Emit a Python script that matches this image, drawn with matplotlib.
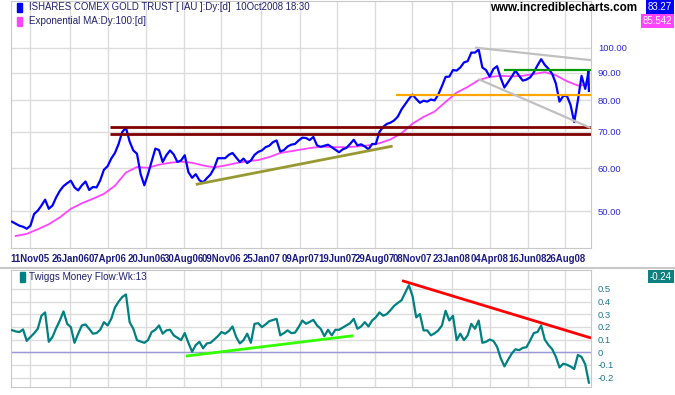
import matplotlib
matplotlib.use('Agg')
import matplotlib.pyplot as plt
import matplotlib.dates as mdates
from matplotlib.lines import Line2D
from matplotlib.patches import Rectangle
from matplotlib.ticker import NullLocator
import pandas as pd

plt.rcParams['font.family'] = ['Liberation Sans', 'DejaVu Sans']

# IAU weekly closes (Fridays) 07Oct05 .. 03Oct08
price = [
    47.8, 47.4, 47.0, 46.8, 46.4, 47.0, 49.4, 50.1, 51.2, 52.5,
    50.5, 51.2, 53.0, 54.5, 55.6, 56.3, 56.9, 55.3, 54.6, 55.8,
    56.7, 54.7, 55.4, 55.3, 57.0, 59.6, 60.5, 62.5, 64.0, 66.5,
    70.0, 71.2, 67.2, 64.7, 63.8, 58.5, 55.8, 58.5, 61.8, 65.2,
    64.8, 61.6, 63.4, 64.7, 63.6, 61.6, 62.0, 63.4, 59.0, 57.6,
    58.5, 57.0, 56.5, 57.5, 58.4, 60.0, 62.6, 62.6, 62.6, 63.5,
    64.0, 62.8, 61.6, 62.5, 61.3, 62.0, 63.5, 64.3, 64.7, 65.6,
    66.0, 67.0, 67.5, 64.4, 64.8, 65.8, 66.3, 66.5, 67.5, 68.3,
    68.2, 67.6, 68.5, 66.1, 65.7, 66.0, 66.3, 65.6, 64.9, 64.2,
    65.0, 65.4, 66.5, 67.7, 66.1, 66.4, 65.8, 65.0, 66.5, 66.5,
    70.0, 71.5, 72.4, 72.8, 73.5, 74.7, 77.0, 78.7, 80.5, 82.0,
    80.5, 79.2, 79.9, 79.6, 80.3, 80.0, 82.0, 85.0, 88.4, 88.5,
    91.0, 90.8, 92.0, 94.0, 94.5, 98.0, 98.0, 99.3, 92.0, 91.0,
    88.5, 91.4, 92.5, 88.0, 84.5, 86.5, 88.5, 90.8, 88.8, 87.0,
    87.4, 88.2, 90.1, 92.8, 95.3, 93.0, 91.5, 89.6, 86.0, 79.6,
    81.5, 81.6, 78.5, 73.0, 80.0, 88.8, 84.0,
]
# last few daily bars
tail_dates = ['2008-10-08', '2008-10-09', '2008-10-10']
tail_price = [89.0, 91.0, 83.27]

# Exponential MA 100, every third week from 14Oct05
ema100 = [
    45.0, 45.4, 46.3, 47.3, 48.7, 50.5, 51.7, 52.7, 53.8, 55.7,
    58.9, 60.3, 60.1, 60.9, 61.4, 61.7, 61.4, 60.7, 60.2, 60.7,
    61.3, 61.8, 62.1, 62.9, 64.0, 64.5, 65.0, 65.5, 65.7, 65.6,
    65.6, 65.8, 66.1, 66.7, 67.8, 69.6, 72.5, 74.6, 76.3, 79.5,
    82.7, 84.7, 87.2, 88.4, 88.8, 88.6, 88.8, 89.5, 90.2, 89.0,
    86.8, 85.2, 85.542,
]

# Twiggs Money Flow (13 week), weekly 07Oct05 .. 10Oct08
tmf = [
    0.175, 0.165, 0.16, 0.181, 0.09, 0.121, 0.15, 0.186, 0.289, 0.315,
    0.083, 0.121, 0.19, 0.251, 0.323, 0.225, 0.199, 0.075, 0.147, 0.212,
    0.22, 0.185, 0.147, 0.152, 0.178, 0.238, 0.212, 0.264, 0.354, 0.40,
    0.437, 0.457, 0.238, 0.186, 0.096, 0.085, 0.075, 0.096, 0.16, 0.178,
    0.212, 0.147, 0.173, 0.178, 0.134, 0.115, 0.096, 0.152, 0.075, 0.005,
    0.057, 0.083, 0.031, 0.070, 0.075, 0.10, 0.127, 0.160, 0.147, 0.168,
    0.204, 0.121, 0.070, 0.096, 0.147, 0.075, 0.225, 0.230, 0.199, 0.22,
    0.246, 0.255, 0.264, 0.134, 0.152, 0.173, 0.152, 0.155, 0.199, 0.251,
    0.225, 0.24, 0.256, 0.212, 0.186, 0.127, 0.178, 0.134, 0.178, 0.178,
    0.195, 0.212, 0.230, 0.264, 0.186, 0.204, 0.238, 0.204, 0.251, 0.276,
    0.315, 0.289, 0.302, 0.333, 0.367, 0.39, 0.411, 0.470, 0.530, 0.444,
    0.276, 0.302, 0.173, 0.173, 0.134, 0.15, 0.173, 0.212, 0.328, 0.251,
    0.289, 0.096, 0.147, 0.096, 0.134, 0.225, 0.186, 0.251, 0.075, 0.083,
    0.101, 0.090, 0.044, -0.047, -0.111, -0.059, -0.01, 0.024, 0.017, 0.035,
    0.04, 0.093, 0.152, 0.160, 0.212, 0.10, 0.057, 0.025, -0.035, -0.12,
    -0.09, -0.098, -0.112, -0.132, -0.021, -0.037, -0.095, -0.24,
]

tick_dates = ['2005-11-11', '2006-01-26', '2006-04-07', '2006-06-20', '2006-08-30',
              '2006-11-09', '2007-01-25', '2007-04-09', '2007-06-19', '2007-08-29',
              '2007-11-08', '2008-01-23', '2008-04-04', '2008-06-16', '2008-08-26']
tick_labels = ['11Nov05', '26Jan06', '07Apr06', '20Jun06', '30Aug06', '09Nov06',
               '25Jan07', '09Apr07', '19Jun07', '29Aug07', '08Nov07', '23Jan08',
               '04Apr08', '16Jun08', '26Aug08']
price_levels = [50, 60, 70, 80, 90, 100]
tmf_levels = [0.5, 0.4, 0.3, 0.2, 0.1, 0, -0.1, -0.2]

# trend lines: start date, start value, end date, end value, colour, width
price_lines = [
    ('2006-04-11', 71.4, '2008-10-14', 71.4, '#800000', 2.0),
    ('2006-04-12', 69.3, '2008-10-14', 69.3, '#800000', 2.0),
    ('2006-09-22', 56.0, '2007-10-02', 65.9, '#999933', 2.0),
    ('2007-10-09', 82.0, '2008-10-14', 82.0, '#ffa500', 1.6),
    ('2008-05-02', 91.1, '2008-10-14', 91.1, '#009900', 1.6),
    ('2008-03-07', 100.1, '2008-10-14', 94.9, '#c0c0c0', 1.6),
    ('2008-03-13', 87.6, '2008-10-13', 71.2, '#c0c0c0', 1.6),
]
tmf_lines = [
    ('2006-09-03', -0.03, '2007-07-19', 0.131, '#33ff00', 2.0),
    ('2007-10-20', 0.566, '2008-10-14', 0.113, '#ff0000', 2.0),
]

weeks = pd.date_range('2005-10-07', '2008-10-10', freq='W-FRI')
price_x = list(weeks[:len(price)]) + list(pd.to_datetime(tail_dates))
price_y = price + tail_price
ema_x = weeks[1::3]
x_lo, x_hi = pd.Timestamp('2005-10-05'), pd.Timestamp('2008-10-14')

W, H = 675, 395
fig = plt.figure(figsize=(6.75, 3.95), dpi=100)
ax1 = fig.add_axes([11 / W, 1 - 248 / H, 580 / W, 247 / H])
ax2 = fig.add_axes([11 / W, 1 - 387 / H, 580 / W, 117 / H])

grid_c = '#dcdcdc'
for ax in (ax1, ax2):
    ax.set_xlim(x_lo, x_hi)
    ax.set_xticks(mdates.date2num(pd.to_datetime(tick_dates)))
    ax.grid(True, color=grid_c, lw=1.0)
    ax.set_axisbelow(True)
    ax.yaxis.tick_right()
    for s in ax.spines.values():
        s.set_color('#c8c8c8')
        s.set_linewidth(0.8)

# price panel
ax1.set_yscale('log')
ax1.set_ylim(42.76, 122.0)
ax1.yaxis.set_minor_locator(NullLocator())
ax1.set_yticks(price_levels, labels=[f'{v:.2f}' for v in price_levels])
ax1.set_xticklabels(tick_labels)
ax1.tick_params(axis='y', length=0, pad=5, labelsize=6.8, labelcolor='#2a2ad8')
ax1.tick_params(axis='x', length=0, pad=4, labelsize=6.9, labelcolor='#1c1c80')
for lab in ax1.get_xticklabels():
    lab.set_fontweight('bold')

ax1.plot(ema_x, ema100, color='#ff44ff', lw=1.3, zorder=3)
ax1.plot(price_x, price_y, color='#0000ff', lw=1.6, zorder=4)
for d0, v0, d1, v1, c, w in price_lines:
    ax1.plot(pd.to_datetime([d0, d1]), [v0, v1], color=c, lw=w, zorder=5,
             solid_capstyle='butt')

# money flow panel
ax2.set_ylim(-0.274, 0.65)
ax2.set_yticks(tmf_levels, labels=[f'{v:g}' for v in tmf_levels])
ax2.set_xticklabels([])
ax2.tick_params(axis='y', length=0, pad=5, labelsize=6.8, labelcolor='#1f7890')
ax2.tick_params(axis='x', length=0)
ax2.axhline(0, color='#9a9ad8', lw=1.0, zorder=2)
ax2.plot(weeks, tmf, color='#008080', lw=1.6, zorder=4)
for d0, v0, d1, v1, c, w in tmf_lines:
    ax2.plot(pd.to_datetime([d0, d1]), [v0, v1], color=c, lw=w, zorder=5,
             solid_capstyle='butt')

# panel separator
fig.add_artist(Line2D([0, 1], [1 - 268 / H] * 2, color='#c8c8c8', lw=1.5))

# legends and labels
txt_c = '#20206e'
fig.patches.append(Rectangle((17 / W, 1 - 12 / H), 5 / W, 9 / H, transform=fig.transFigure,
                             color='#0000ff', figure=fig))
fig.patches.append(Rectangle((17 / W, 1 - 26 / H), 5 / W, 9 / H, transform=fig.transFigure,
                             color='#ff44ff', figure=fig))
fig.patches.append(Rectangle((20 / W, 1 - 282 / H), 5 / W, 10 / H, transform=fig.transFigure,
                             color='#008080', figure=fig))
fig.text(29 / W, 1 - 7.5 / H, 'ISHARES COMEX GOLD TRUST [ IAU ]:Dy:[d]  10Oct2008 18:30',
         va='center', ha='left', fontsize=6.9, color=txt_c)
fig.text(29 / W, 1 - 21.5 / H, 'Exponential MA:Dy:100:[d]',
         va='center', ha='left', fontsize=7.1, color=txt_c)
fig.text(29 / W, 1 - 277 / H, 'Twiggs Money Flow:Wk:13',
         va='center', ha='left', fontsize=7.1, color=txt_c)
fig.text(637 / W, 1 - 8 / H, 'www.incrediblecharts.com', va='center', ha='right',
         fontsize=8.4, fontweight='bold', color='black')

box = dict(boxstyle='square,pad=0.18', ec='none')
fig.text(672 / W, 1 - 7 / H, f'{tail_price[-1]:.2f}', va='center', ha='right', fontsize=7,
         color='white', bbox=dict(box, fc='#0000ff'))
fig.text(672 / W, 1 - 21 / H, f'{ema100[-1]:.3f}', va='center', ha='right', fontsize=7,
         color='white', bbox=dict(box, fc='#ff44ff'))
fig.text(672 / W, 1 - 276.5 / H, f'{tmf[-1]:.2f}', va='center', ha='right', fontsize=7,
         color='white', bbox=dict(box, fc='#0f7f7f'))

fig.savefig('out.png', dpi=100)
